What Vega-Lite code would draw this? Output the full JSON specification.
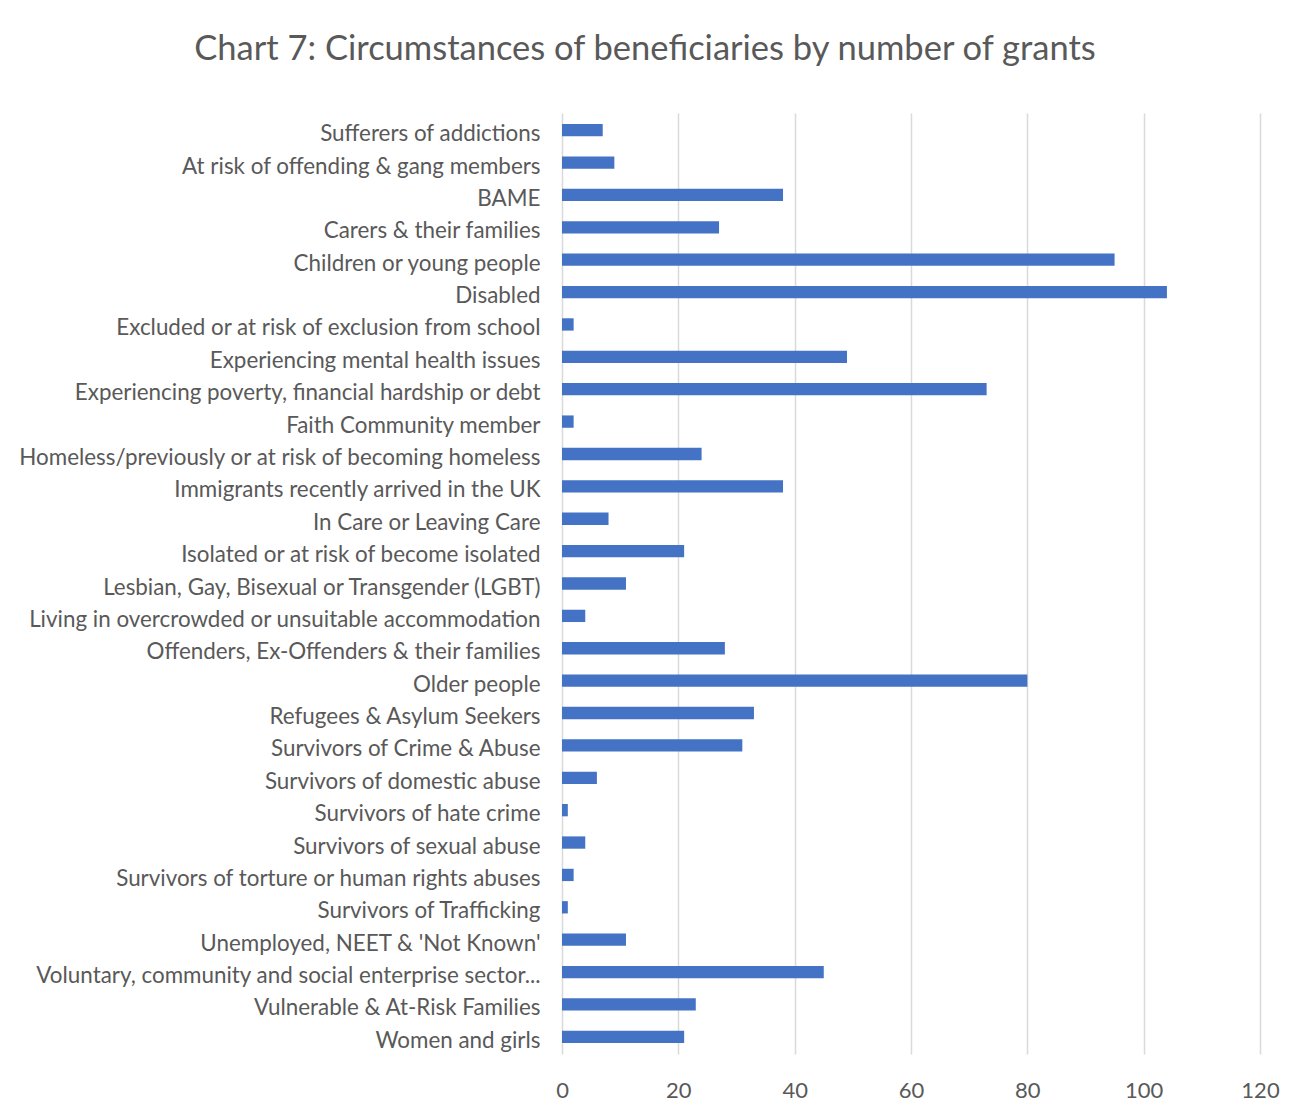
{
  "$schema": "https://vega.github.io/schema/vega-lite/v6.json",
  "width": 698,
  "height": 941,
  "autosize": {"type": "none"},
  "padding": {"left": 562, "top": 113, "right": 30, "bottom": 52},
  "background": "white",
  "title": {
    "text": "Chart 7: Circumstances of beneficiaries by number of grants",
    "font": "Lato",
    "fontSize": 34.5,
    "fontWeight": "normal",
    "color": "#595959",
    "anchor": "middle",
    "frame": "group",
    "baseline": "alphabetic",
    "dx": -266,
    "offset": 19
  },
  "data": {
    "values": [
      {"category": "Sufferers of addictions", "grants": 7},
      {"category": "At risk of offending & gang members", "grants": 9},
      {"category": "BAME", "grants": 38},
      {"category": "Carers & their families", "grants": 27},
      {"category": "Children or young people", "grants": 95},
      {"category": "Disabled", "grants": 104},
      {"category": "Excluded or at risk of exclusion from school\u00a0", "grants": 2},
      {"category": "Experiencing mental health issues", "grants": 49},
      {"category": "Experiencing poverty, financial hardship or debt", "grants": 73},
      {"category": "Faith Community member", "grants": 2},
      {"category": "Homeless/previously or at risk of becoming homeless", "grants": 24},
      {"category": "Immigrants recently arrived in the UK", "grants": 38},
      {"category": "In Care or Leaving Care", "grants": 8},
      {"category": "Isolated or at risk of become isolated", "grants": 21},
      {"category": "Lesbian, Gay, Bisexual or Transgender (LGBT)", "grants": 11},
      {"category": "Living in overcrowded or unsuitable accommodation", "grants": 4},
      {"category": "Offenders, Ex-Offenders & their families", "grants": 28},
      {"category": "Older people", "grants": 80},
      {"category": "Refugees & Asylum Seekers", "grants": 33},
      {"category": "Survivors of Crime & Abuse", "grants": 31},
      {"category": "Survivors of domestic abuse", "grants": 6},
      {"category": "Survivors of hate crime", "grants": 1},
      {"category": "Survivors of sexual abuse", "grants": 4},
      {"category": "Survivors of torture or human rights abuses\u00a0", "grants": 2},
      {"category": "Survivors of Trafficking\u00a0", "grants": 1},
      {"category": "Unemployed, NEET & 'Not Known'", "grants": 11},
      {"category": "Voluntary, community and social enterprise sector...", "grants": 45},
      {"category": "Vulnerable & At-Risk Families", "grants": 23},
      {"category": "Women and girls", "grants": 21}
    ]
  },
  "mark": {"type": "bar", "color": "#4472C4"},
  "encoding": {
    "y": {
      "field": "category",
      "type": "nominal",
      "sort": null,
      "scale": {"paddingInner": 0.62, "paddingOuter": 0.34},
      "axis": {
        "title": null,
        "ticks": false,
        "domain": false,
        "labelFont": "Lato",
        "labelFontSize": 22.4,
        "labelColor": "#595959",
        "labelPadding": 22,
        "labelOffset": 4,
        "labelLimit": 600
      }
    },
    "x": {
      "field": "grants",
      "type": "quantitative",
      "scale": {"domain": [0, 120], "nice": false},
      "axis": {
        "title": null,
        "values": [0, 20, 40, 60, 80, 100, 120],
        "ticks": false,
        "domain": false,
        "grid": true,
        "gridColor": "#D9D9D9",
        "gridWidth": 1.5,
        "labelFont": "Lato",
        "labelFontSize": 22,
        "labelColor": "#595959",
        "labelPadding": 26,
        "labelFlush": false
      }
    }
  },
  "config": {"view": {"stroke": null}}
}
